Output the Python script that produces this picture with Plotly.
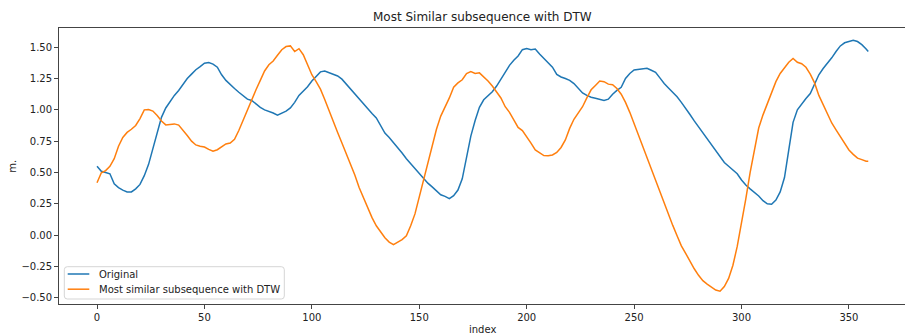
import plotly.graph_objects as go

# Sample positions (every second index, plus the last one)
index = list(range(0, 359, 2)) + [359]

original = [
    0.55, 0.51, 0.50, 0.49, 0.41, 0.38, 0.36, 0.345, 0.345, 0.37,
    0.405, 0.475, 0.565, 0.69, 0.83, 0.94, 1.015, 1.07, 1.115, 1.155,
    1.20, 1.25, 1.285, 1.32, 1.345, 1.372, 1.378, 1.365, 1.34, 1.28,
    1.235, 1.20, 1.17, 1.14, 1.115, 1.085, 1.075, 1.045, 1.02, 1.00,
    0.99, 0.975, 0.958, 0.975, 0.99, 1.015, 1.06, 1.115, 1.15, 1.185,
    1.23, 1.27, 1.303, 1.31, 1.295, 1.283, 1.27, 1.245, 1.205, 1.17,
    1.13, 1.09, 1.05, 1.01, 0.97, 0.935, 0.88, 0.815, 0.78, 0.74,
    0.70, 0.655, 0.61, 0.57, 0.53, 0.49, 0.45, 0.415, 0.385, 0.35,
    0.322, 0.31, 0.292, 0.315, 0.36, 0.45, 0.62, 0.79, 0.915, 1.02,
    1.08, 1.115, 1.145, 1.19, 1.245, 1.305, 1.355, 1.395, 1.43, 1.48,
    1.49, 1.48, 1.485, 1.445, 1.41, 1.375, 1.34, 1.283, 1.262, 1.25,
    1.235, 1.21, 1.175, 1.135, 1.115, 1.10, 1.092, 1.083, 1.075, 1.085,
    1.125, 1.155, 1.18, 1.25, 1.29, 1.318, 1.323, 1.325, 1.331, 1.316,
    1.30, 1.255, 1.21, 1.175, 1.14, 1.105, 1.06, 1.015, 0.963, 0.912,
    0.865, 0.82, 0.77, 0.72, 0.68, 0.635, 0.58, 0.55, 0.52, 0.49,
    0.44, 0.40, 0.37, 0.343, 0.313, 0.275, 0.25, 0.247, 0.28, 0.345,
    0.46, 0.68, 0.90, 1.00, 1.05, 1.09, 1.13, 1.205, 1.28, 1.33,
    1.37, 1.415, 1.465, 1.51, 1.535, 1.548, 1.555, 1.545, 1.52, 1.485,
    1.465,
]

dtw_match = [
    0.418, 0.498, 0.515, 0.55, 0.61, 0.71, 0.78, 0.82, 0.845, 0.875,
    0.93, 1.00, 1.003, 0.99, 0.955, 0.911, 0.88, 0.885, 0.888, 0.878,
    0.84, 0.795, 0.75, 0.72, 0.71, 0.703, 0.685, 0.67, 0.682, 0.705,
    0.728, 0.735, 0.765, 0.835, 0.92, 1.005, 1.085, 1.16, 1.235, 1.31,
    1.36, 1.39, 1.435, 1.48, 1.505, 1.51, 1.465, 1.488, 1.44, 1.355,
    1.28, 1.225, 1.165, 1.083, 0.99, 0.90, 0.82, 0.735, 0.655, 0.575,
    0.48, 0.38, 0.295, 0.21, 0.14, 0.075, 0.025, -0.02, -0.055, -0.075,
    -0.055, -0.035, -0.005, 0.075, 0.17, 0.305, 0.44, 0.58, 0.72, 0.845,
    0.95, 1.02, 1.095, 1.18, 1.215, 1.24, 1.29, 1.305, 1.29, 1.295,
    1.265, 1.23, 1.19, 1.145, 1.095, 1.025, 0.98, 0.92, 0.86, 0.835,
    0.79, 0.735, 0.68, 0.658, 0.635, 0.634, 0.64, 0.66, 0.70, 0.76,
    0.852, 0.925, 0.975, 1.025, 1.095, 1.16, 1.195, 1.23, 1.225, 1.205,
    1.20, 1.17, 1.125, 1.06, 0.98, 0.89, 0.80, 0.705, 0.62, 0.53,
    0.43, 0.335, 0.245, 0.162, 0.078, -0.005, -0.085, -0.145, -0.208, -0.268,
    -0.32, -0.363, -0.39, -0.415, -0.438, -0.447, -0.41, -0.345, -0.24, -0.09,
    0.09, 0.29, 0.50, 0.69, 0.855, 0.96, 1.05, 1.14, 1.225, 1.29,
    1.34, 1.38, 1.41, 1.38, 1.368, 1.34, 1.285, 1.215, 1.115, 1.04,
    0.97, 0.895, 0.84, 0.785, 0.727, 0.68, 0.645, 0.615, 0.603, 0.59,
    0.59,
]

series_names = ["Original", "Most similar subsequence with DTW"]
series_colors = ["#1f77b4", "#ff7f0e"]

x_ticks = [0, 50, 100, 150, 200, 250, 300, 350]
y_ticks = [-0.5, -0.25, 0.0, 0.25, 0.5, 0.75, 1.0, 1.25, 1.5]

W, H = 905, 335
ML, MR, MT, MB = 59, 0, 28, 31
PW, PH = W - ML - MR, H - MT - MB


def px(x):
    return (x - ML) / PW


def py(y):
    return (H - MB - y) / PH


FONT = "DejaVu Sans"
TXT = "#222222"

fig = go.Figure()
for vals, name, color in zip([original, dtw_match], series_names, series_colors):
    fig.add_trace(go.Scatter(
        x=index, y=vals, mode="lines", name=name,
        line=dict(color=color, width=1.5), showlegend=False,
    ))

axis_common = dict(
    showgrid=False, zeroline=False, showline=True, linecolor="#444444",
    linewidth=0.9, ticks="outside", ticklen=4, tickwidth=0.9,
    tickcolor="#444444", tickfont=dict(family=FONT, size=10, color=TXT),
)

fig.update_xaxes(range=[-17.7, 376.1], tickvals=x_ticks, mirror=True,
                 **axis_common)
fig.update_yaxes(range=[-0.549, 1.653], tickvals=y_ticks, tickformat=".2f",
                 **axis_common)

# Legend box in the lower-left corner
x0, x1, y0, y1, r = px(64.3), px(284.3), py(299.0), py(266.7), 3
rx, ry = r / PW, r / PH
legend_path = (
    f"M {x0 + rx},{y0} L {x1 - rx},{y0} Q {x1},{y0} {x1},{y0 + ry} "
    f"L {x1},{y1 - ry} Q {x1},{y1} {x1 - rx},{y1} "
    f"L {x0 + rx},{y1} Q {x0},{y1} {x0},{y1 - ry} "
    f"L {x0},{y0 + ry} Q {x0},{y0} {x0 + rx},{y0} Z"
)
shapes = [dict(type="path", xref="paper", yref="paper", path=legend_path,
               line=dict(color="#d5d5d5", width=1),
               fillcolor="rgba(255,255,255,0.8)")]
annotations = []
for k, (name, color) in enumerate(zip(series_names, series_colors)):
    yy = 274.0 + 15.2 * k
    shapes.append(dict(type="line", xref="paper", yref="paper",
                       x0=px(67.7), x1=px(89.3), y0=py(yy), y1=py(yy),
                       line=dict(color=color, width=1.5)))
    annotations.append(dict(xref="paper", yref="paper", x=px(96.5), y=py(yy),
                            text=name, showarrow=False, xanchor="left",
                            yanchor="middle",
                            font=dict(family=FONT, size=10, color=TXT)))

annotations += [
    dict(xref="paper", yref="paper", x=px(483), y=py(329), text="index",
         showarrow=False, xanchor="center", yanchor="middle",
         font=dict(family=FONT, size=10, color=TXT)),
    dict(xref="paper", yref="paper", x=px(11.7), y=0.5, text="m.",
         showarrow=False, textangle=-90, xanchor="center", yanchor="middle",
         font=dict(family=FONT, size=10, color=TXT)),
    dict(xref="paper", yref="paper", x=px(483), y=py(16.7),
         text="Most Similar subsequence with DTW", showarrow=False,
         xanchor="center", yanchor="middle",
         font=dict(family=FONT, size=12, color=TXT)),
]

fig.update_layout(
    width=W, height=H, margin=dict(l=ML, r=MR, t=MT, b=MB, pad=0),
    paper_bgcolor="white", plot_bgcolor="white",
    shapes=shapes, annotations=annotations,
)

fig.write_html("out.html")
